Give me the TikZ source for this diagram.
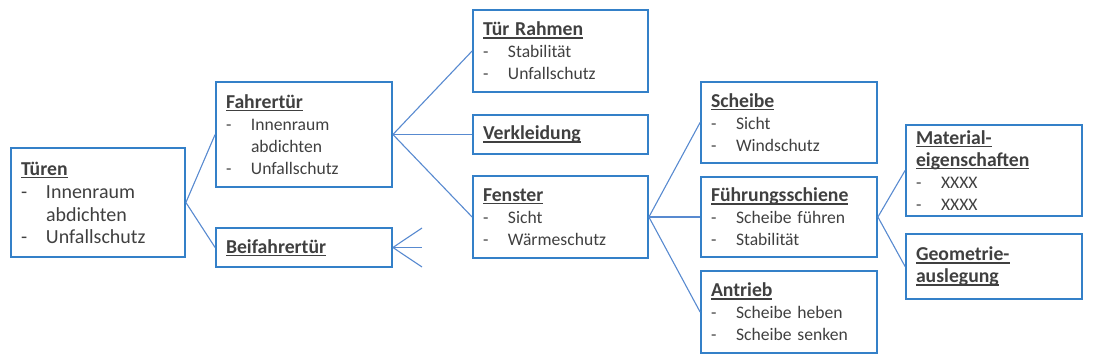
\documentclass[tikz,border=0pt]{standalone}
\usepackage{fontspec}
\setmainfont{Carlito}
\definecolor{boxblue}{RGB}{52,128,200}
\definecolor{linkblue}{RGB}{88,138,208}
\definecolor{txtgray}{RGB}{64,64,64}
\newcommand\hd[1]{\leavevmode\setbox0\hbox{\fontsize{19.7}{22}\selectfont\bfseries #1}\rlap{\rule[-2.8pt]{\wd0}{1.3pt}}\box0}
\newcommand\itm[1]{\leavevmode\makebox[25pt][l]{-}#1}
\newcommand\ind{\leavevmode\hspace*{25pt}}
\newcommand\bx[6]{%
  \node[box, minimum width={(#4-#2)*1pt}, minimum height={(#5-#3)*1pt},
        text width={(#4-#2-20)*1pt}] (#1) at ({(#2+#4)/2},{(#3+#5)/2}) {#6};}
\begin{document}
\begin{tikzpicture}[x=1pt,y=-1pt,
  box/.style={draw=boxblue, line width=1.8pt, inner xsep=10pt, inner ysep=0pt,
    align=left, text=txtgray, font=\fontsize{17.6}{22}\selectfont},
  link/.style={draw=linkblue, line width=1.1pt}]
\useasboundingbox (0,0) rectangle (1094,363);
\bx{tueren}{11}{148}{185}{257}{\fontsize{20}{23}\selectfont\hd{Türen}\\\itm{Innenraum}\\\ind abdichten\\\itm{Unfallschutz}}
\bx{fahrer}{216}{82}{392}{187}{\hd{Fahrertür}\\\itm{Innenraum}\\\ind abdichten\\\itm{Unfallschutz}}
\bx{beifahrer}{216}{228}{392}{267}{\hd{Beifahrertür}}
\bx{rahmen}{473}{10}{648}{92}{\hd{Tür Rahmen}\\\itm{Stabilität}\\\itm{Unfallschutz}}
\bx{verkleidung}{473}{115}{648}{154}{\hd{Verkleidung}}
\bx{fenster}{473}{176}{648}{258}{\hd{Fenster}\\\itm{Sicht}\\\itm{Wärmeschutz}}
\bx{scheibe}{701}{82}{877}{163}{\hd{Scheibe}\\\itm{Sicht}\\\itm{Windschutz}}
\bx{fuehrung}{701}{177}{877}{257}{\hd{Führungsschiene}\\\itm{Scheibe führen}\\\itm{Stabilität}}
\bx{antrieb}{701}{271}{877}{353}{\hd{Antrieb}\\\itm{Scheibe heben}\\\itm{Scheibe senken}}
\bx{material}{906}{125}{1082}{216}{\hd{Material-}\\\hd{eigenschaften}\\\itm{XXXX}\\\itm{XXXX}}
\bx{geometrie}{906}{234}{1082}{299}{\hd{Geometrie-}\\\hd{auslegung}}
\coordinate (b1) at (422,228);
\coordinate (b2) at (422,247.5);
\coordinate (b3) at (422,267);
\draw[link] (tueren.east) -- (fahrer.west);
\draw[link] (tueren.east) -- (beifahrer.west);
\draw[link] (fahrer.east) -- (rahmen.west);
\draw[link] (fahrer.east) -- (verkleidung.west);
\draw[link] (fahrer.east) -- (fenster.west);
\draw[link] (beifahrer.east) -- (b1);
\draw[link] (beifahrer.east) -- (b2);
\draw[link] (beifahrer.east) -- (b3);
\draw[link] (fenster.east) -- (scheibe.west);
\draw[link] (fenster.east) -- (fuehrung.west);
\draw[link] (fenster.east) -- (antrieb.west);
\draw[link] (fuehrung.east) -- (material.west);
\draw[link] (fuehrung.east) -- (geometrie.west);
\end{tikzpicture}
\end{document}
